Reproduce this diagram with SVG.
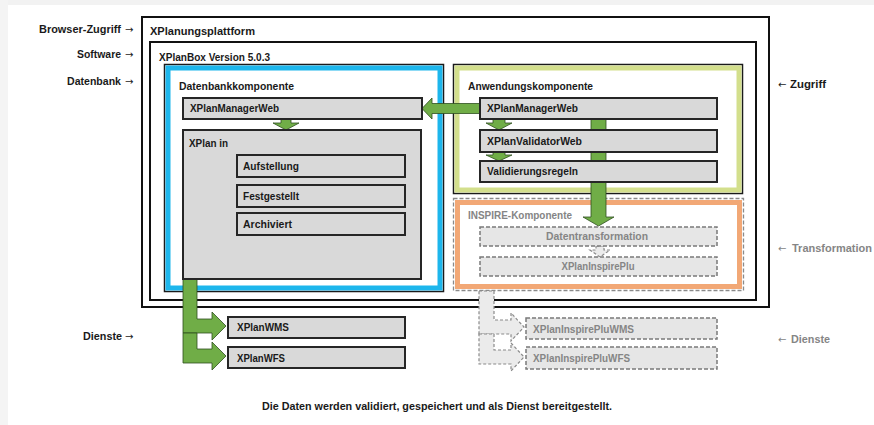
<svg xmlns="http://www.w3.org/2000/svg" width="874" height="425" viewBox="0 0 874 425">
<defs>
<style>
.t{font-family:"Liberation Sans",Arial,sans-serif;font-weight:bold;font-size:10px;fill:#1a1a1a}
.side{font-family:"Liberation Sans",Arial,sans-serif;font-weight:bold;font-size:10.5px;fill:#1a1a1a}
.ar{font-family:"DejaVu Sans",sans-serif;font-size:10px;fill:#1a1a1a}
.g{fill:#858585}
.box{fill:#d9d9d9;stroke:#262626;stroke-width:2}
.dbox{fill:#e6e6e6;stroke:#7a7a7a;stroke-width:1.5;stroke-dasharray:4 2}
.frame{fill:#fff;stroke:#111;stroke-width:2}
.arr{fill:#70ad47;stroke:#2f4f1f;stroke-width:0.8}
.darr{fill:#ebebeb;stroke:#8a8a8a;stroke-width:1.2;stroke-dasharray:3 2}
</style>
</defs>
<rect x="0" y="0" width="874" height="425" fill="#fff"/>
<rect x="0" y="0" width="874" height="5" fill="#f2f2f2"/>
<rect x="0" y="0" width="8" height="425" fill="#f4f4f4"/>

<g id="labels-left">
<text class="side" x="39" y="33" textLength="82" lengthAdjust="spacingAndGlyphs">Browser-Zugriff</text>
<text class="ar" x="125" y="33">→</text>
<text class="side" x="77" y="58" textLength="44" lengthAdjust="spacingAndGlyphs">Software</text>
<text class="ar" x="125" y="58">→</text>
<text class="side" x="67" y="85" textLength="54" lengthAdjust="spacingAndGlyphs">Datenbank</text>
<text class="ar" x="125" y="85">→</text>
<text class="side" x="83" y="340" textLength="39" lengthAdjust="spacingAndGlyphs">Dienste</text>
<text class="ar" x="125" y="340">→</text>
</g>
<g id="labels-right">
<text class="ar" x="778" y="88">←</text>
<text class="side" x="790" y="88" textLength="36" lengthAdjust="spacingAndGlyphs">Zugriff</text>
<text class="ar g" x="778" y="252">←</text>
<text class="side g" x="792" y="252" textLength="80" lengthAdjust="spacingAndGlyphs">Transformation</text>
<text class="ar g" x="778" y="343">←</text>
<text class="side g" x="791" y="343" textLength="39" lengthAdjust="spacingAndGlyphs">Dienste</text>
</g>

<g id="plattform">
<rect class="frame" x="142" y="17" width="627" height="290"/>
<text class="t" x="150" y="35" textLength="105" lengthAdjust="spacingAndGlyphs">XPlanungsplattform</text>
</g>
<g id="xplanbox">
<rect class="frame" x="150" y="42" width="606" height="258"/>
<text class="t" x="159" y="61" textLength="111" lengthAdjust="spacingAndGlyphs">XPlanBox Version 5.0.3</text>
</g>

<g id="datenbankkomponente">
<rect x="164.5" y="64.5" width="279" height="227" fill="#fff" stroke="#1a1a1a" stroke-width="1.5"/>
<rect x="168" y="68" width="272" height="220" fill="none" stroke="#1db6ec" stroke-width="5"/>
<text class="t" x="179" y="90" textLength="115" lengthAdjust="spacingAndGlyphs">Datenbankkomponente</text>
</g>

<g id="anwendungskomponente">
<rect x="453.5" y="64.5" width="289" height="129" fill="#fff" stroke="#1a1a1a" stroke-width="1.5"/>
<rect x="457" y="68" width="282" height="122" fill="none" stroke="#d3df8c" stroke-width="5"/>
<text class="t" x="468" y="90" textLength="125" lengthAdjust="spacingAndGlyphs">Anwendungskomponente</text>
</g>

<g id="inspire-komponente">
<rect x="453.5" y="198.5" width="290" height="92" fill="#fff" stroke="#8a8a8a" stroke-width="1.3" stroke-dasharray="4 2"/>
<rect x="457.5" y="202.5" width="282" height="84" fill="none" stroke="#f2a876" stroke-width="5"/>
<text class="t g" x="468" y="219" textLength="104" lengthAdjust="spacingAndGlyphs">INSPIRE-Komponente</text>
</g>

<g id="connectors">
<path class="arr" d="M482,103.5 H432 V98 L422,108.5 L432,119 V113.5 H482 Z"/>
<path class="arr" d="M281,119 H291 V123 H299 L286,130 L273,123 H281 Z"/>
<path class="arr" d="M591,119 H606 V217 H614 L598.5,226 L583,217 H591 Z"/>
<path class="arr" d="M493,119 H505 V123 H512 L499,130 L486,123 H493 Z"/>
<path class="arr" d="M493,152 H505 V155 H512 L499,161 L486,155 H493 Z"/>
<path class="darr" d="M596,246 H604 V250 H610 L600,257 L590,250 H596 Z"/>
<path class="arr" d="M183,279 H197 V319 H212 V312 L226,326 L212,340 V333 H183 Z"/>
<path class="arr" d="M183,333 H197 V349 H212 V342 L226,356 L212,370 V363 H183 Z"/>
<path class="darr" d="M479,291 H494 V320 H511 V313 L524,327 L511,341 V334 H479 Z"/>
<path class="darr" d="M479,334 H494 V350 H511 V343 L524,357 L511,371 V364 H479 Z"/>
</g>

<g id="db-xplanmanagerweb">
<rect class="box" x="183" y="98" width="239" height="21"/>
<text class="t" x="190" y="112" textLength="89" lengthAdjust="spacingAndGlyphs">XPlanManagerWeb</text>
</g>
<g id="xplan-in">
<rect class="box" x="183" y="130" width="238" height="149"/>
<text class="t" x="189" y="147" textLength="39" lengthAdjust="spacingAndGlyphs">XPlan in</text>
</g>
<g id="aufstellung">
<rect class="box" x="237" y="155" width="168" height="22"/>
<text class="t" x="243" y="170" textLength="56" lengthAdjust="spacingAndGlyphs">Aufstellung</text>
</g>
<g id="festgestellt">
<rect class="box" x="237" y="185" width="168" height="22"/>
<text class="t" x="243" y="200" textLength="56" lengthAdjust="spacingAndGlyphs">Festgestellt</text>
</g>
<g id="archiviert">
<rect class="box" x="237" y="213" width="168" height="22"/>
<text class="t" x="243" y="228" textLength="49" lengthAdjust="spacingAndGlyphs">Archiviert</text>
</g>

<g id="app-xplanmanagerweb">
<rect class="box" x="480" y="98" width="237" height="21"/>
<text class="t" x="487" y="112" textLength="91" lengthAdjust="spacingAndGlyphs">XPlanManagerWeb</text>
</g>
<g id="xplanvalidatorweb">
<rect class="box" x="480" y="130" width="237" height="22"/>
<text class="t" x="487" y="145" textLength="95" lengthAdjust="spacingAndGlyphs">XPlanValidatorWeb</text>
</g>
<g id="validierungsregeln">
<rect class="box" x="480" y="161" width="237" height="21"/>
<text class="t" x="487" y="175" textLength="91" lengthAdjust="spacingAndGlyphs">Validierungsregeln</text>
</g>

<g id="datentransformation">
<rect class="dbox" x="480" y="227" width="237" height="19"/>
<text class="t g" x="597" y="240" text-anchor="middle" textLength="102" lengthAdjust="spacingAndGlyphs">Datentransformation</text>
</g>
<g id="xplaninspireplu">
<rect class="dbox" x="480" y="257" width="237" height="19"/>
<text class="t g" x="598" y="270" text-anchor="middle" textLength="73" lengthAdjust="spacingAndGlyphs">XPlanInspirePlu</text>
</g>

<g id="xplanwms">
<rect class="box" x="228" y="317" width="177" height="21"/>
<text class="t" x="237" y="331" textLength="52" lengthAdjust="spacingAndGlyphs">XPlanWMS</text>
</g>
<g id="xplanwfs">
<rect class="box" x="228" y="347" width="177" height="21"/>
<text class="t" x="237" y="362" textLength="48" lengthAdjust="spacingAndGlyphs">XPlanWFS</text>
</g>
<g id="xplaninspirepluwms">
<rect class="dbox" x="526" y="318" width="191" height="21"/>
<text class="t g" x="533" y="333" textLength="101" lengthAdjust="spacingAndGlyphs">XPlanInspirePluWMS</text>
</g>
<g id="xplaninspirepluwfs">
<rect class="dbox" x="526" y="347" width="191" height="22"/>
<text class="t g" x="533" y="362" textLength="97" lengthAdjust="spacingAndGlyphs">XPlanInspirePluWFS</text>
</g>

<text class="side" x="437" y="410" text-anchor="middle" textLength="350" lengthAdjust="spacingAndGlyphs">Die Daten werden validiert, gespeichert und als Dienst bereitgestellt.</text>
</svg>
